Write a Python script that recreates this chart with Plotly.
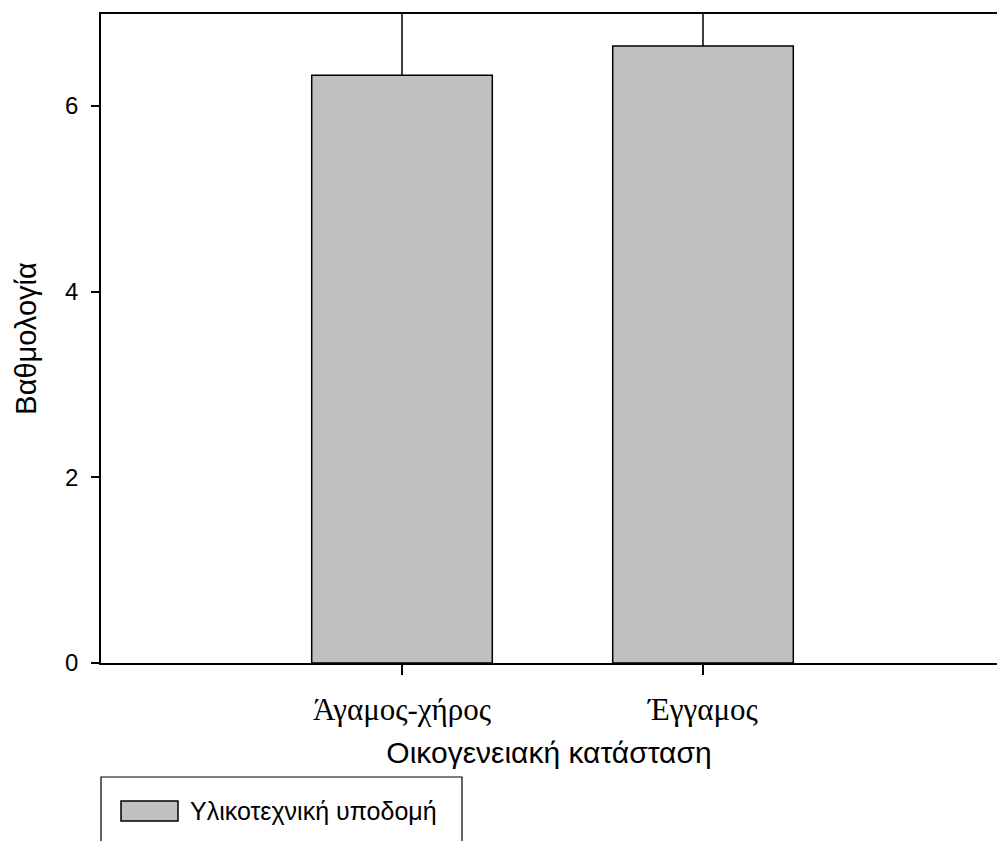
import plotly.graph_objects as go

# Mean score per marital-status group, with the upper error (SD)
categories = ["Άγαμος-χήρος", "Έγγαμος"]
means = [6.33, 6.645]
errors_up = [1.2, 1.0]
series_name = "Υλικοτεχνική υποδομή"

y_ticks = [0, 2, 4, 6]

BAR_FILL = "#C0C0C0"
INK = "#000000"
SANS = "Liberation Sans, Arial, sans-serif"
SERIF = "Liberation Serif, Times New Roman, serif"

W, H = 997, 841
L, R, T, B = 101, 0, 14, 178
plot_w = W - L - R
plot_h = H - T - B

fig = go.Figure()
fig.add_trace(go.Bar(
    x=[0, 1],
    y=means,
    width=0.6,
    name=series_name,
    marker=dict(color=BAR_FILL, line=dict(color=INK, width=1.5)),
    error_y=dict(type="data", symmetric=False, array=errors_up,
                 arrayminus=[0, 0], color=INK, thickness=1.5, width=0),
    showlegend=False,
    cliponaxis=True,
))


def px_x(p):
    return (p - L) / plot_w


def px_y(p):
    return (H - B - p) / plot_h


# Legend box (open at the bottom, running off the page) with a wide swatch
shapes = [
    dict(type="path", xref="paper", yref="paper",
         path=f"M {px_x(101)},{px_y(845)} L {px_x(101)},{px_y(777)} "
              f"L {px_x(462)},{px_y(777)} L {px_x(462)},{px_y(845)}",
         line=dict(color=INK, width=1.2)),
    dict(type="rect", xref="paper", yref="paper",
         x0=px_x(121), x1=px_x(178), y0=px_y(801), y1=px_y(821),
         fillcolor=BAR_FILL, line=dict(color=INK, width=1.5)),
]
annotations = [
    dict(text=series_name, xref="paper", yref="paper",
         x=px_x(188), y=px_y(811), xanchor="left", yanchor="middle",
         showarrow=False, font=dict(family=SANS, size=25, color=INK)),
]

fig.update_layout(
    width=W, height=H,
    margin=dict(l=L, r=R, t=T, b=B, pad=0),
    paper_bgcolor="white", plot_bgcolor="white",
    showlegend=False,
    shapes=shapes,
    annotations=annotations,
    xaxis=dict(
        range=[-1, -1 + plot_w / 301.0],
        tickmode="array", tickvals=[0, 1], ticktext=categories,
        tickfont=dict(family=SERIF, size=31, color=INK),
        ticks="outside", ticklen=10, tickwidth=1.5, tickcolor=INK,
        ticklabelstandoff=8,
        showline=True, linecolor=INK, linewidth=1.5, mirror=True,
        showgrid=False, zeroline=False,
        title=dict(text="Οικογενειακή κατάσταση",
                   font=dict(family=SANS, size=30, color=INK), standoff=16),
    ),
    yaxis=dict(
        range=[0, 6.99],
        tickmode="array", tickvals=y_ticks,
        tickfont=dict(family=SANS, size=24, color=INK),
        ticks="outside", ticklen=8, tickwidth=1.5, tickcolor=INK,
        ticklabelstandoff=8,
        showline=True, linecolor=INK, linewidth=1.5, mirror=False,
        showgrid=False, zeroline=False,
        title=dict(text="Βαθμολογία",
                   font=dict(family=SANS, size=29, color=INK), standoff=20),
    ),
)

fig.write_html("out.html")
